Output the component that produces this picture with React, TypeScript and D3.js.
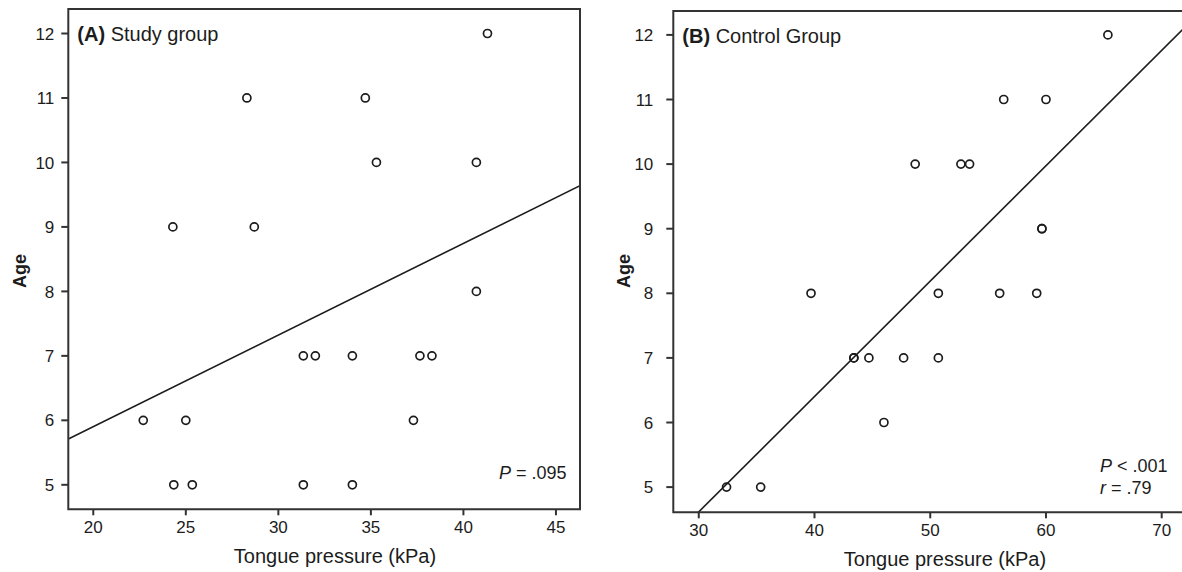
import React from "react";
import * as d3 from "d3";

// ---------- Data ----------
// Panel A: Study group
const studyPressure = [41.3, 28.3, 34.7, 35.3, 40.7, 24.3, 28.7, 40.7, 31.35, 32.0, 34.0, 37.65, 38.3, 22.7, 25.0, 37.3, 24.35, 25.35, 31.35, 34.0];
const studyAge = [12, 11, 11, 10, 10, 9, 9, 8, 7, 7, 7, 7, 7, 6, 6, 6, 5, 5, 5, 5];
const studyFit = { intercept: 3.06, slope: 0.1421 };
const studyStats = ["P = .095"];

// Panel B: Control group
const controlPressure = [65.35, 56.35, 60.0, 48.7, 52.65, 53.4, 59.65, 59.65, 39.7, 50.7, 56.0, 59.2, 43.4, 43.4, 44.7, 47.7, 50.7, 46.0, 32.4, 35.35];
const controlAge = [12, 11, 11, 10, 10, 10, 9, 9, 8, 8, 8, 8, 7, 7, 7, 7, 7, 6, 5, 5];
const controlFit = { intercept: -0.741, slope: 0.1786 };
const controlStats = ["P < .001", "r = .79"];

const ageTicks = [5, 6, 7, 8, 9, 10, 11, 12];
const studyPressureTicks = [20, 25, 30, 35, 40, 45];
const controlPressureTicks = [30, 40, 50, 60, 70];

const FONT = "'Liberation Sans', Arial, Helvetica, sans-serif";
const INK = "#1c1c1c";

type PanelProps = {
  id: string;
  letter: string;
  title: string;
  xs: number[];
  ys: number[];
  fit: { intercept: number; slope: number };
  stats: string[];
  xTicks: number[];
  left: number;
  right: number;
  top: number;
  bottom: number;
  xDomain: [number, number];
  yDomain: [number, number];
  yLabelGap: number;
  statsX: number;
  statsY: number;
  xLabelX: number;
  yLabelX: number;
  showRight: boolean;
};

function Panel(p: PanelProps) {
  const x = d3.scaleLinear().domain(p.xDomain).range([p.left, p.right]);
  const y = d3.scaleLinear().domain(p.yDomain).range([p.bottom, p.top]);
  const lineGen = d3
    .line<number>()
    .x((d) => x(d))
    .y((d) => y(p.fit.intercept + p.fit.slope * d));
  const clipId = `clip-${p.id}`;
  return (
    <g>
      <defs>
        <clipPath id={clipId}>
          <rect x={p.left} y={p.top} width={p.right - p.left} height={p.bottom - p.top} />
        </clipPath>
      </defs>
      {/* regression line */}
      <path
        d={lineGen([p.xDomain[0], p.xDomain[1]]) || ""}
        fill="none"
        stroke={INK}
        strokeWidth={1.6}
        clipPath={`url(#${clipId})`}
      />
      {/* points */}
      {p.xs.map((v, i) => (
        <circle key={i} cx={x(v)} cy={y(p.ys[i])} r={4} fill="none" stroke={INK} strokeWidth={1.7} />
      ))}
      {/* frame */}
      <path
        d={
          p.showRight
            ? `M${p.left},${p.top}H${p.right}V${p.bottom}H${p.left}Z`
            : `M${p.right + 2},${p.top}H${p.left}V${p.bottom}H${p.right + 2}`
        }
        fill="none"
        stroke="#333"
        strokeWidth={2}
      />
      {/* y ticks */}
      {ageTicks.map((t) => (
        <g key={`y${t}`}>
          <line x1={p.left - 7} x2={p.left} y1={y(t)} y2={y(t)} stroke="#333" strokeWidth={2} />
          <text
            x={p.left - p.yLabelGap}
            y={y(t)}
            dy="0.36em"
            textAnchor="end"
            fontFamily={FONT}
            fontSize={17}
            fill={INK}
          >
            {t}
          </text>
        </g>
      ))}
      {/* x ticks */}
      {p.xTicks.map((t) => (
        <g key={`x${t}`}>
          <line x1={x(t)} x2={x(t)} y1={p.bottom} y2={p.bottom + 6} stroke="#333" strokeWidth={2} />
          <text x={x(t)} y={p.bottom + 23.5} textAnchor="middle" fontFamily={FONT} fontSize={17} fill={INK}>
            {t}
          </text>
        </g>
      ))}
      {/* title */}
      <text x={p.left + 9} y={p.top + 32} fontFamily={FONT} fontSize={20} fill={INK}>
        <tspan fontWeight="bold">{p.letter}</tspan>
        <tspan> {p.title}</tspan>
      </text>
      {/* stats */}
      {p.stats.map((s, i) => {
        const [head, ...rest] = s.split(" ");
        return (
          <text key={s} x={p.statsX} y={p.statsY + i * 22} fontFamily={FONT} fontSize={18} fill={INK}>
            <tspan fontStyle="italic">{head}</tspan>
            <tspan> {rest.join(" ")}</tspan>
          </text>
        );
      })}
      {/* axis labels */}
      <text
        x={p.xLabelX}
        y={p.bottom + 54}
        textAnchor="middle"
        fontFamily={FONT}
        fontSize={20}
        fill={INK}
      >
        Tongue pressure (kPa)
      </text>
      <text
        transform={`translate(${p.yLabelX},271) rotate(-90)`}
        textAnchor="middle"
        fontFamily={FONT}
        fontSize={18}
        fontWeight="bold"
        fill={INK}
      >
        Age
      </text>
    </g>
  );
}

export default function App() {
  return (
    <svg
      width={1182}
      height={572}
      style={{ position: "absolute", left: 0, top: 0, background: "#fff" }}
    >
      <rect width={1182} height={572} fill="#fff" />
      <Panel
        id="a"
        letter="(A)"
        title="Study group"
        xs={studyPressure}
        ys={studyAge}
        fit={studyFit}
        stats={studyStats}
        xTicks={studyPressureTicks}
        left={68.3}
        right={580}
        top={9}
        bottom={509.3}
        xDomain={[18.65, 46.3]}
        yDomain={[4.62, 12.38]}
        yLabelGap={14}
        statsX={499}
        statsY={479}
        xLabelX={335}
        yLabelX={26}
        showRight={true}
      />
      <Panel
        id="b"
        letter="(B)"
        title="Control Group"
        xs={controlPressure}
        ys={controlAge}
        fit={controlFit}
        stats={controlStats}
        xTicks={controlPressureTicks}
        left={673.3}
        right={1183}
        top={11}
        bottom={512.3}
        xDomain={[27.8, 71.84]}
        yDomain={[4.61, 12.37]}
        yLabelGap={20}
        statsX={1100}
        statsY={472}
        xLabelX={945}
        yLabelX={630}
        showRight={false}
      />
    </svg>
  );
}
